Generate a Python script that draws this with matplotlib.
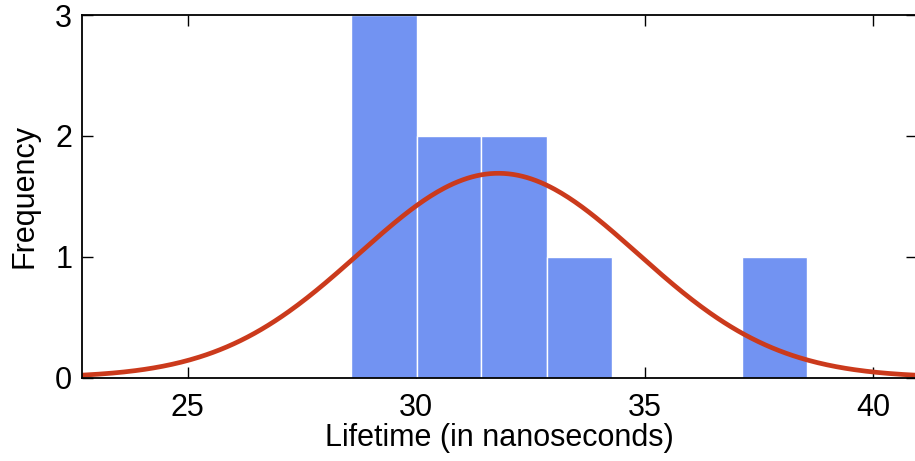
import numpy as np
import matplotlib
matplotlib.use('Agg')
import matplotlib.pyplot as plt

plt.rcParams['font.family'] = ['Liberation Sans', 'DejaVu Sans']

# histogram bins
bin_edges = [28.58, 30.01, 31.43, 32.86, 34.28, 35.71, 37.14, 38.56]
counts = [3, 2, 2, 1, 0, 0, 1]

# fitted normal curve parameters (histfit style)
fit_mu = 31.8
fit_sigma = 3.05
fit_peak = 1.69

x_ticks = [25, 30, 35, 40]
y_ticks = [0, 1, 2, 3]

fig = plt.figure(figsize=(9.15, 4.61), dpi=100)
ax = fig.add_axes([82 / 915, 83.5 / 461, 835 / 915, 362.5 / 461])

edges = np.array(bin_edges)
ax.bar(edges[:-1], counts, width=np.diff(edges), align='edge',
       color='#7293f2', edgecolor='white', linewidth=1.0, zorder=2)

xs = np.linspace(22.0, 42.0, 400)
ys = fit_peak * np.exp(-(xs - fit_mu) ** 2 / (2 * fit_sigma ** 2))
ax.plot(xs, ys, color='#cb3a1c', linewidth=3.4, solid_capstyle='butt', zorder=3)

ax.set_xlim(22.69, 40.96)
ax.set_ylim(0, 3)
ax.set_xticks(x_ticks)
ax.set_yticks(y_ticks)
ax.tick_params(direction='in', length=8, width=1.0, top=True, right=True,
               labelsize=22, colors='black')
ax.tick_params(axis='x', pad=11)
ax.tick_params(axis='y', pad=7)
for s in ax.spines.values():
    s.set_linewidth(1.3)
    s.set_zorder(4)

ax.set_xlabel('Lifetime (in nanoseconds)', fontsize=22, labelpad=0)
ax.set_ylabel('Frequency', fontsize=22, labelpad=11)

fig.savefig('out.png', dpi=100)
